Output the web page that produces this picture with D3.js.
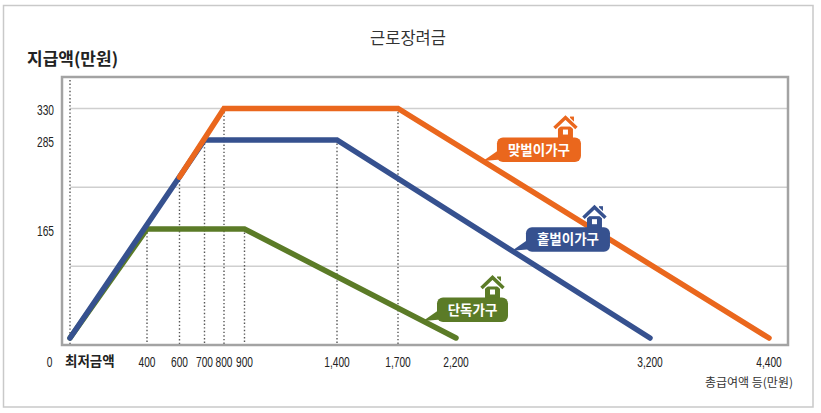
<!DOCTYPE html>
<html><head><meta charset="utf-8">
<script src="https://cdn.jsdelivr.net/npm/d3@7"></script>
<style>body{margin:0;background:#fff}</style>
</head><body><svg id="c" width="821" height="413"></svg>
<script>
// ---- data ----
const title = "근로장려금";
const yTitle = "지급액(만원)";
const xTitle = "총급여액 등(만원)";
const xTickValues = [0, 400, 600, 700, 800, 900, 1400, 1700, 2200, 3200, 4400];
const xTickLabels = ["최저금액", "400", "600", "700", "800", "900", "1,400", "1,700", "2,200", "3,200", "4,400"];
const yTickValues = [0, 165, 285, 330];
const yTickLabels = ["0", "165", "285", "330"];
const seriesNames = ["단독가구", "홑벌이가구", "맞벌이가구"];
const singleX = [0, 400, 900, 2200];
const singleY = [0, 165, 165, 0];
const oneEarnerX = [0, 700, 1400, 3200];
const oneEarnerY = [0, 285, 285, 0];
const dualX = [600, 800, 1700, 4400];
const dualY = [235, 330, 330, 0];

// ---- layout / style ----
const colors = ["#5b7b27", "#36518f", "#ea671d"];
const numFont = "'Liberation Sans',Arial,sans-serif";
const krFont = "'Noto Sans CJK KR','Noto Sans',sans-serif";
const frame = {x0: 62, y0: 77, x1: 788, y1: 345};
const condense = 0.68;

const svg = d3.select("#c");
const x = d3.scaleLinear().domain(xTickValues)
  .range([70, 147, 179.5, 204.5, 224, 244.5, 337, 398, 456, 650, 769]);
const y = d3.scaleLinear().domain(yTickValues).range([338, 229, 140, 108.5]);

// condensed number label: positioned via transform so its box is narrow too
function numLabel(g, px, py, anchor, txt) {
  g.append("text").attr("transform", `translate(${px},${py}) scale(${condense},1)`)
    .attr("text-anchor", anchor).attr("font-family", numFont).attr("font-size", 15)
    .attr("fill", "#222").text(txt);
}

// outer border
svg.append("rect").attr("x", 3.5).attr("y", 5.5).attr("width", 809.5).attr("height", 401.5)
  .attr("fill", "none").attr("stroke", "#c9c9c9").attr("stroke-width", 1.5);

// title
svg.append("text").attr("x", 408).attr("y", 44).attr("text-anchor", "middle")
  .attr("font-family", krFont).attr("font-size", 16.5).attr("fill", "#333").text(title);

// y title
svg.append("text").attr("x", 27).attr("y", 65)
  .attr("font-family", krFont).attr("font-size", 17).attr("font-weight", 700)
  .attr("fill", "#222").text(yTitle);

// gridlines (evenly dividing from top value to baseline)
const yTop = y(d3.max(yTickValues));
const grid = d3.range(3).map(i => yTop + i * (frame.y1 - yTop) / 3);
svg.append("g").selectAll("line").data(grid).join("line")
  .attr("x1", x(0)).attr("x2", frame.x1).attr("y1", d => d).attr("y2", d => d)
  .attr("stroke", "#cfcfcf").attr("stroke-width", 1.5);

// series
const series = [
  {name: seriesNames[0], xs: singleX, ys: singleY, color: colors[0]},
  {name: seriesNames[1], xs: oneEarnerX, ys: oneEarnerY, color: colors[1]},
  {name: seriesNames[2], xs: dualX, ys: dualY, color: colors[2]}
];
series.forEach(s => s.pts = s.xs.map((v, i) => [v, s.ys[i]]));

// drop lines
const drops = [];
series.forEach(s => s.pts.forEach(p => { if (p[1] > 0) drops.push(p); }));
const dg = svg.append("g");
dg.append("line").attr("x1", x(0)).attr("x2", x(0)).attr("y1", frame.y0 + 3).attr("y2", frame.y1)
  .attr("stroke", "#555").attr("stroke-width", 1.4).attr("stroke-dasharray", "1.4,2.2");
dg.selectAll("line.d").data(drops).join("line").attr("class", "d")
  .attr("x1", d => x(d[0])).attr("x2", d => x(d[0])).attr("y1", d => y(d[1])).attr("y2", frame.y1)
  .attr("stroke", "#555").attr("stroke-width", 1.4).attr("stroke-dasharray", "1.4,2.2");

// frame
svg.append("rect").attr("x", frame.x0).attr("y", frame.y0)
  .attr("width", frame.x1 - frame.x0).attr("height", frame.y1 - frame.y0)
  .attr("fill", "none").attr("stroke", "#a3a3a3").attr("stroke-width", 2.5);

// series lines
const line = d3.line().x(d => x(d[0])).y(d => y(d[1]));
svg.append("g").selectAll("path").data(series).join("path")
  .attr("d", d => line(d.pts)).attr("fill", "none").attr("stroke", d => d.color)
  .attr("stroke-width", 5.5).attr("stroke-linecap", "round").attr("stroke-linejoin", "miter");

// y tick labels
const yl = svg.append("g");
yTickValues.slice(1).forEach((v, i) => numLabel(yl, 54, y(v) + 6.5, "end", yTickLabels[i + 1]));
numLabel(yl, 52.5, 366.5, "end", yTickLabels[0]);

// x tick labels
const xl = svg.append("g");
xl.append("text").attr("x", x(xTickValues[0]) - 5).attr("y", 366)
  .attr("font-family", krFont).attr("font-weight", 700).attr("font-size", 13.5)
  .attr("fill", "#222").text(xTickLabels[0]);
xTickValues.slice(1).forEach((v, i) => numLabel(xl, x(v), 366.5, "middle", xTickLabels[i + 1]));

// x title
svg.append("text").attr("x", 793).attr("y", 387).attr("text-anchor", "end")
  .attr("font-family", krFont).attr("font-size", 12).attr("fill", "#333").text(xTitle);

// callouts
const callT = [0.844, 0.559, 0.229]; // fraction along descending segment
series.forEach((s, k) => {
  const a = s.pts[2], b = s.pts[3];
  const ax = x(a[0]) + (x(b[0]) - x(a[0])) * callT[k];
  const ay = y(a[1]) + (y(b[1]) - y(a[1])) * callT[k];
  const w = s.name.length * 13 + 19, h = 24.5;
  const bx = ax + 14, by = ay - 23.5;
  const g = svg.append("g");
  g.append("path").attr("d", `M${ax},${ay}L${bx + 4},${by + h * 0.45}L${bx + 4},${by + h * 0.9}Z`)
    .attr("fill", s.color);
  // house
  const hx = bx + w - 29, hy = by - 23;
  const hg = g.append("g").attr("transform", `translate(${hx},${hy})`);
  hg.append("rect").attr("x", 18).attr("y", 2).attr("width", 4).attr("height", 8).attr("fill", s.color);
  hg.append("rect").attr("x", 6).attr("y", 12).attr("width", 15).attr("height", 14).attr("fill", s.color);
  hg.append("path").attr("d", "M2.5,13.5L13.5,3L24.5,13.5").attr("fill", "none")
    .attr("stroke", "#fff").attr("stroke-width", 6);
  hg.append("path").attr("d", "M2.5,13.5L13.5,3L24.5,13.5").attr("fill", "none")
    .attr("stroke", s.color).attr("stroke-width", 3.5);
  hg.append("rect").attr("x", 11).attr("y", 15).attr("width", 5).attr("height", 5).attr("fill", "#fff");
  g.append("rect").attr("x", bx).attr("y", by).attr("width", w).attr("height", h)
    .attr("rx", 6).attr("fill", s.color);
  g.append("text").attr("x", bx + w / 2).attr("y", by + h / 2 + 4.8).attr("text-anchor", "middle")
    .attr("font-family", krFont).attr("font-size", 13.5).attr("font-weight", 700)
    .attr("fill", "#fff").text(s.name);
});
</script></body></html>
